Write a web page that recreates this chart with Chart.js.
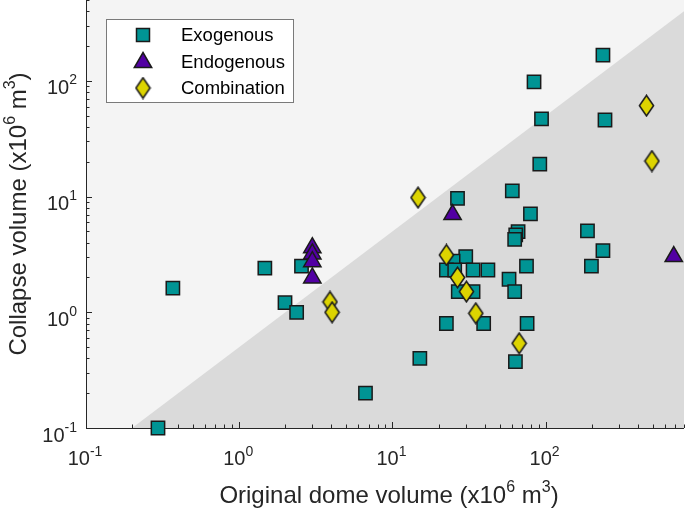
<!DOCTYPE html>
<html>
<head>
<meta charset="utf-8">
<script src="https://cdn.jsdelivr.net/npm/chart.js@4.4.0/dist/chart.umd.min.js"></script>
<style>
  body { margin: 0; background: #fff; }
  canvas { display: block; }
</style>
</head>
<body>
<canvas id="c" width="685" height="510"></canvas>
<script>
// data (x10^6 m^3)
const exoX = [0.295, 0.369, 1.47, 2.55, 1.99, 2.37, 6.67, 15.1, 91.6, 60.6, 26.6, 79.6, 66.1, 63.8, 62.8,
              187.5, 236.6, 199, 30.1, 24.9, 22.5, 25.5, 33.6, 42.0, 75, 57.7, 62.8, 26.9, 33.6, 22.5,
              39.4, 75.7, 63.5, 236.6, 84, 94, 244];
const exoY = [0.1, 1.62, 2.41, 2.51, 1.21, 1.0, 0.2, 0.40, 19.1, 11.2, 9.66, 7.08, 4.98, 4.66, 4.27,
              5.05, 3.41, 2.51, 3.03, 2.77, 2.32, 2.32, 2.32, 2.32, 2.51, 1.93, 1.51, 1.51, 1.51, 0.80,
              0.80, 0.80, 0.374, 167, 98, 46.9, 45.9];
const endoX = [3, 3, 3, 3, 24.7, 686];
const endoY = [3.62, 3.19, 2.74, 1.98, 7.0, 3.03];
const combX = [455, 494, 14.7, 22.5, 26.6, 30.4, 35, 67.2, 3.91, 4.04];
const combY = [61.1, 20.3, 9.8, 3.13, 2.0, 1.51, 0.98, 0.54, 1.23, 1.0];

const seriesNames = ['Exogenous', 'Endogenous', 'Combination'];
const xTickExps = [-1, 0, 1, 2];
const yTickExps = [-1, 0, 1, 2];
const lineRatio = 0.5; // shaded region: collapse < 0.5 x dome volume

const teal = '#009494', purple = '#5200a3', yellow = '#ddd400', edge = '#1a1a1a';
const txt = '#262626';
const FONT = '"Liberation Sans", Arial, sans-serif';

function pts(xs, ys) { return xs.map((v, i) => ({x: v, y: ys[i]})); }

// tall diamond marker
const diamond = document.createElement('canvas');
diamond.width = 17; diamond.height = 23;
(function () {
  const g = diamond.getContext('2d');
  g.beginPath();
  g.moveTo(8.5, 1.2); g.lineTo(15.6, 11.5); g.lineTo(8.5, 21.8); g.lineTo(1.4, 11.5); g.closePath();
  g.fillStyle = yellow; g.fill();
  g.lineWidth = 1.5; g.strokeStyle = edge; g.stroke();
})();

function pow10(ctx, exp, x, y, align, base, sup, supDy) {
  ctx.font = base + 'px ' + FONT;
  const w1 = ctx.measureText('10').width;
  ctx.font = sup + 'px ' + FONT;
  const w2 = ctx.measureText(String(exp)).width;
  const total = w1 + w2;
  let left = align === 'center' ? x - total / 2 : (align === 'right' ? x - total : x);
  ctx.textAlign = 'left';
  ctx.textBaseline = 'alphabetic';
  ctx.font = base + 'px ' + FONT;
  ctx.fillText('10', left, y);
  ctx.font = sup + 'px ' + FONT;
  ctx.fillText(String(exp), left + w1, y - supDy);
}

function drawTitle(ctx, a, s1, b, s2, c, cx, baseY) {
  const big = '24px ' + FONT, small = '16px ' + FONT;
  const parts = [[a, big, 0], [s1, small, 11], [b, big, 0], [s2, small, 11], [c, big, 0]];
  let total = 0;
  parts.forEach(p => { ctx.font = p[1]; total += ctx.measureText(p[0]).width; });
  let xx = cx - total / 2;
  ctx.fillStyle = txt;
  ctx.textAlign = 'left';
  ctx.textBaseline = 'alphabetic';
  parts.forEach(p => {
    ctx.font = p[1];
    ctx.fillText(p[0], xx, baseY - p[2]);
    xx += ctx.measureText(p[0]).width;
  });
}

const decor = {
  id: 'decor',
  beforeDatasetsDraw(chart) {
    const {ctx, chartArea: a, scales: {x, y}} = chart;
    ctx.save();
    ctx.fillStyle = '#f4f4f4';
    ctx.fillRect(a.left, a.top, a.right - a.left, a.bottom - a.top);
    // region below the y = 0.5x line
    ctx.beginPath();
    ctx.moveTo(x.getPixelForValue(y.min / lineRatio), a.bottom);
    ctx.lineTo(a.right, y.getPixelForValue(x.max * lineRatio));
    ctx.lineTo(a.right, a.bottom);
    ctx.closePath();
    ctx.fillStyle = '#dadada';
    ctx.fill();

    // axes lines
    ctx.strokeStyle = txt;
    ctx.lineWidth = 1;
    ctx.beginPath();
    ctx.moveTo(a.left + 0.5, a.top);
    ctx.lineTo(a.left + 0.5, a.bottom + 0.5);
    ctx.lineTo(a.right, a.bottom + 0.5);
    ctx.stroke();

    // inward ticks
    ctx.beginPath();
    for (let d = -1; d <= 3; d++) {
      for (let m = 1; m <= 9; m++) {
        const v = m * Math.pow(10, d);
        const len = m === 1 ? 6 : 3.5;
        if (v >= x.min && v <= x.max) {
          const px = Math.round(x.getPixelForValue(v)) + 0.5;
          ctx.moveTo(px, a.bottom); ctx.lineTo(px, a.bottom - len);
        }
        if (v >= y.min && v <= y.max) {
          const py = Math.round(y.getPixelForValue(v)) + 0.5;
          ctx.moveTo(a.left, py); ctx.lineTo(a.left + len, py);
        }
      }
    }
    ctx.stroke();

    // tick labels
    ctx.fillStyle = txt;
    xTickExps.forEach(e => {
      pow10(ctx, e, x.getPixelForValue(Math.pow(10, e)) - 1, 465, 'center', 20, 14, 9.5);
    });
    yTickExps.forEach(e => {
      const py = y.getPixelForValue(Math.pow(10, e));
      pow10(ctx, e, 77, py + 13.5, 'right', 20, 14, 10);
    });

    // axis titles
    drawTitle(ctx, 'Original dome volume (x10', '6', ' m', '3', ')', 389, 503);
    ctx.save();
    ctx.translate(26, (a.top + a.bottom) / 2);
    ctx.rotate(-Math.PI / 2);
    drawTitle(ctx, 'Collapse volume (x10', '6', ' m', '3', ')', 0, 0);
    ctx.restore();
    ctx.restore();
  },
  afterDatasetsDraw(chart) {
    const {ctx} = chart;
    ctx.save();
    ctx.fillStyle = '#fff';
    ctx.strokeStyle = '#7a7a7a';
    ctx.lineWidth = 1;
    ctx.fillRect(106, 19.5, 187, 83);
    ctx.strokeRect(106.5, 19.5, 187, 83);
    const rows = [35, 61.5, 88];
    const mx = 143;
    // square
    ctx.lineWidth = 1.5; ctx.strokeStyle = edge;
    ctx.fillStyle = teal;
    ctx.fillRect(mx - 6.5, rows[0] - 6.5, 13, 13);
    ctx.strokeRect(mx - 6.5, rows[0] - 6.5, 13, 13);
    // triangle
    ctx.beginPath();
    ctx.moveTo(mx, rows[1] - 9);
    ctx.lineTo(mx + 8.7, rows[1] + 6);
    ctx.lineTo(mx - 8.7, rows[1] + 6);
    ctx.closePath();
    ctx.fillStyle = purple; ctx.fill(); ctx.stroke();
    ctx.drawImage(diamond, mx - diamond.width / 2, rows[2] - diamond.height / 2);
    ctx.fillStyle = '#000';
    ctx.font = '18.5px ' + FONT;
    ctx.textAlign = 'left';
    ctx.textBaseline = 'middle';
    seriesNames.forEach((n, i) => ctx.fillText(n, 181, rows[i] + 1));
    ctx.restore();
  }
};

new Chart(document.getElementById('c'), {
  type: 'scatter',
  data: {
    datasets: [
      { label: seriesNames[0], data: pts(exoX, exoY), pointStyle: 'rect', pointRadius: 9.4,
        backgroundColor: teal, borderColor: edge, borderWidth: 1.5, order: 3, clip: false },
      { label: seriesNames[1], data: pts(endoX, endoY), pointStyle: 'triangle', pointRadius: 10,
        backgroundColor: purple, borderColor: edge, borderWidth: 1.5, order: 2, clip: false },
      { label: seriesNames[2], data: pts(combX, combY), pointStyle: diamond, pointRadius: 10,
        backgroundColor: yellow, borderColor: edge, order: 1, clip: false }
    ]
  },
  options: {
    responsive: false,
    devicePixelRatio: 1,
    animation: false,
    events: [],
    layout: { autoPadding: false, padding: { left: 86, right: 1, top: 0, bottom: 82 } },
    plugins: { legend: { display: false }, tooltip: { enabled: false } },
    scales: {
      x: { type: 'logarithmic', min: 0.1, max: 800, display: false },
      y: { type: 'logarithmic', min: 0.1, max: 500, display: false }
    }
  },
  plugins: [decor]
});
</script>
</body>
</html>
